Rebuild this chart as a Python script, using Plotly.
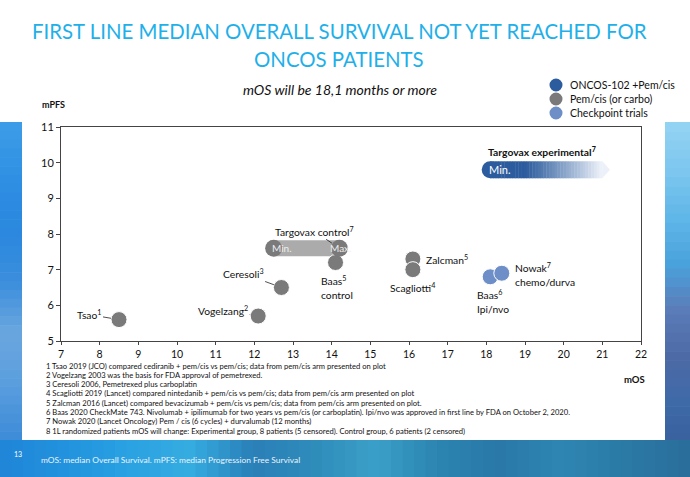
import plotly.graph_objects as go

# ---------------- data ----------------
pem_names = ["Tsao", "Vogelzang", "Ceresoli", "Baas control", "Zalcman", "Scagliotti"]
pem_mos = [8.5, 12.1, 12.7, 14.1, 16.1, 16.1]
pem_mpfs = [5.6, 5.7, 6.5, 7.2, 7.3, 7.0]

cp_names = ["Baas Ipi/nvo", "Nowak chemo/durva"]
cp_mos = [18.1, 18.4]
cp_mpfs = [6.8, 6.9]

ctrl_range_mos = [12.5, 14.2]      # Targovax control Min., Max.
ctrl_mpfs = 7.6
exp_min_mos = 18.1                 # Targovax experimental Min.
exp_arrow_end = 21.2
exp_mpfs = 9.8

x_ticks = list(range(7, 23))
y_ticks = list(range(5, 12))

legend_labels = ["ONCOS-102 +Pem/cis", "Pem/cis (or carbo)", "Checkpoint trials"]

footnotes = [
    "1 Tsao 2019 (JCO) compared cediranib + pem/cis vs pem/cis; data from pem/cis arm presented on plot",
    "2 Vogelzang 2003 was the basis for FDA approval of pemetrexed.",
    "3 Ceresoli 2006, Pemetrexed plus carboplatin",
    "4 Scagliotti 2019 (Lancet) compared nintedanib + pem/cis vs pem/cis; data from pem/cis arm presented on plot",
    "5 Zalcman 2016 (Lancet) compared bevacizumab + pem/cis vs pem/cis; data from pem/cis arm presented on plot.",
    "6 Baas 2020 CheckMate 743. Nivolumab + ipilimumab for two years vs pem/cis (or carboplatin). Ipi/nvo was approved in first line by FDA on October 2, 2020.",
    "7 Nowak 2020 (Lancet Oncology) Pem / cis (6 cycles) + durvalumab (12 months)",
    "8 1L randomized patients mOS will change: Experimental group, 8 patients (5 censored). Control group, 6 patients (2 censored)",
]

# ---------------- style ----------------
FONT = "Lato"
GRAY = "#7a7a7a"
LIGHTGRAY = "#ababab"
DARKBLUE = "#2c5c9d"
CPBLUE = "#6d8ec6"
TITLEBLUE = "#1fb0ea"

W, H = 690, 477
L, R, T, B = 61, 641, 127, 341


def px(x):
    return (x - L) / (R - L)


def py(y):
    return (B - y) / (B - T)


def hex2rgb(h):
    h = h.lstrip("#")
    return tuple(int(h[i:i + 2], 16) for i in (0, 2, 4))


def lerp_stops(stops, f):
    n = len(stops) - 1
    pos = f * n
    i = min(int(pos), n - 1)
    t = pos - i
    a, b = hex2rgb(stops[i]), hex2rgb(stops[i + 1])
    return "rgb(%d,%d,%d)" % tuple(int(round(u + (v - u) * t)) for u, v in zip(a, b))


fig = go.Figure()

# Targovax control bar
fig.add_trace(go.Scatter(x=ctrl_range_mos, y=[ctrl_mpfs, ctrl_mpfs], mode="lines",
                         line=dict(color=LIGHTGRAY, width=16), hoverinfo="skip", showlegend=False))

# pem/cis points
fig.add_trace(go.Scatter(x=pem_mos, y=pem_mpfs, mode="markers", text=pem_names,
                         marker=dict(size=16, color=GRAY, line=dict(color="white", width=1)),
                         showlegend=False))
# control ends
fig.add_trace(go.Scatter(x=ctrl_range_mos, y=[ctrl_mpfs, ctrl_mpfs], mode="markers",
                         marker=dict(size=17, color=GRAY, line=dict(width=0)),
                         showlegend=False))
# checkpoint points
fig.add_trace(go.Scatter(x=cp_mos, y=cp_mpfs, mode="markers", text=cp_names,
                         marker=dict(size=16, color=CPBLUE, line=dict(color="white", width=1)),
                         showlegend=False))

shapes = []

# ---- background image approximation ----
def prect(x0, y0, x1, y1, color):
    shapes.append(dict(type="rect", xref="paper", yref="paper", x0=px(x0), x1=px(x1),
                       y0=py(y1), y1=py(y0), fillcolor=color, line=dict(width=0), layer="below"))

NSEG = 36
left_stops = ["#3c9ce8", "#2f8fe2", "#2a88de", "#3a8edc", "#6aa6de", "#5a9ede", "#3f8cd8"]
for i in range(NSEG):
    y0 = 122 + i * 318 / NSEG
    prect(0, y0, 22, y0 + 318 / NSEG + 0.6, lerp_stops(left_stops, i / (NSEG - 1)))
right_stops = ["#92d2f2", "#7cc6ef", "#5fb6e8", "#4aa2dc", "#5a7cb8", "#4d6aa6", "#3f6aa8", "#37609c"]
for i in range(NSEG):
    y0 = 122 + i * 330 / NSEG
    prect(665, y0, 690, y0 + 330 / NSEG + 0.6, lerp_stops(right_stops, i / (NSEG - 1)))
bottom_stops = ["#1f86d8", "#2293de", "#2aa2e2", "#35ace0", "#2a7fb8", "#2f8cba", "#3aa0c8",
                "#2b84b0", "#2a78a8", "#2e86b2", "#2b7aa6", "#2a6f9c"]
NB = 60
for i in range(NB):
    x0 = i * 690 / NB
    prect(x0, 440, x0 + 690 / NB + 0.6, 477, lerp_stops(bottom_stops, i / (NB - 1)))

# ---- Targovax experimental gradient arrow ----
half_h = 8.5 / ((B - T) / 6)
body_end = exp_arrow_end - 0.2
nseg = 40
start_rgb = (0x2c, 0x5c, 0x9d)
end_rgb = (0xec, 0xf1, 0xf9)
for i in range(nseg):
    f = i / (nseg - 1)
    g = max(0.0, (f - 0.3) / 0.7) ** 1.1
    col = tuple(int(round(s + (e - s) * g)) for s, e in zip(start_rgb, end_rgb))
    xa = exp_min_mos + (body_end - exp_min_mos) * i / nseg
    xb = exp_min_mos + (body_end - exp_min_mos) * (i + 1) / nseg + 0.01
    shapes.append(dict(type="rect", xref="x", yref="y", x0=xa, x1=xb,
                       y0=exp_mpfs - half_h, y1=exp_mpfs + half_h,
                       fillcolor="rgb(%d,%d,%d)" % col, line=dict(width=0), layer="above"))
shapes.append(dict(type="path", xref="x", yref="y",
                   path="M %f,%f L %f,%f L %f,%f Z" % (body_end, exp_mpfs - half_h,
                                                      exp_arrow_end, exp_mpfs,
                                                      body_end, exp_mpfs + half_h),
                   fillcolor="rgb(%d,%d,%d)" % end_rgb, line=dict(width=0), layer="above"))

# legend circles
leg_cols = [DARKBLUE, GRAY, CPBLUE]
leg_y = [85, 99, 113]
for c, yy in zip(leg_cols, leg_y):
    shapes.append(dict(type="circle", xref="paper", yref="paper", xsizemode="pixel", ysizemode="pixel",
                       xanchor=px(556), yanchor=py(yy), x0=-6.5, x1=6.5, y0=-6.5, y1=6.5,
                       fillcolor=c, line=dict(width=0)))

# left cap of experimental arrow
fig.add_trace(go.Scatter(x=[exp_min_mos], y=[exp_mpfs], mode="markers",
                         marker=dict(size=17, color=DARKBLUE, line=dict(width=0)), showlegend=False))

ann = []

def pa(text, x, y, size=10.5, color="#111111", xanchor="center", yanchor="middle", **kw):
    ann.append(dict(text=text, xref="paper", yref="paper", x=px(x), y=py(y), showarrow=False,
                    xanchor=xanchor, yanchor=yanchor,
                    font=dict(family=FONT, size=size, color=color), **kw))

# titles
pa("FIRST LINE MEDIAN OVERALL SURVIVAL NOT YET REACHED FOR", 339, 31, size=20.4, color=TITLEBLUE)
pa("ONCOS PATIENTS", 339, 59, size=20.4, color=TITLEBLUE)
pa("<i>mOS will be 18,1 months or more</i>", 340, 90, size=14, color="#111111")
pa("<b>mPFS</b>", 40, 104, size=9, xanchor="left")
pa("<b>mOS</b>", 647, 379, size=9.5, xanchor="right")

for lab, yy in zip(legend_labels, leg_y):
    pa(lab, 568, yy, size=10.5, xanchor="left")

for i, fn in enumerate(footnotes):
    pa(fn, 44, 365.5 + i * 9.3, size=7.6, xanchor="left")

pa("13", 12, 454, size=7, color="white", xanchor="left")
pa("mOS: median Overall Survival. mPFS: median Progression Free Survival", 39, 460,
   size=8.4, color="#eaf4fb", xanchor="left")


def da(text, x, y, xshift=0, yshift=0, xanchor="center", size=10.3, color="#111111", align="left"):
    ann.append(dict(text=text, x=x, y=y, xref="x", yref="y", showarrow=False, xanchor=xanchor,
                    yanchor="middle", xshift=xshift, yshift=yshift, align=align,
                    font=dict(family=FONT, size=size, color=color)))


def la(text, x, y, ax, ay, size=10.3, standoff=8):
    ann.append(dict(text=text, x=x, y=y, xref="x", yref="y", showarrow=True, ax=ax, ay=ay,
                    arrowhead=0, arrowwidth=0.8, arrowcolor="#222222", standoff=standoff,
                    font=dict(family=FONT, size=size, color="#111111")))

pm = dict(zip(pem_names, zip(pem_mos, pem_mpfs)))
cm = dict(zip(cp_names, zip(cp_mos, cp_mpfs)))

la("Tsao<sup>1</sup>", *pm["Tsao"], -30, -5)
la("Vogelzang<sup>2</sup>", *pm["Vogelzang"], -35, -6)
la("Ceresoli<sup>3</sup>", *pm["Ceresoli"], -38, -14)
la("Targovax control<sup>7</sup>", ctrl_range_mos[1], ctrl_mpfs, -25, -17, standoff=9)
da("Baas<sup>5</sup><br>control", *pm["Baas control"], xshift=-17, yshift=-25, xanchor="left")
da("Zalcman<sup>5</sup>", *pm["Zalcman"], xshift=11, yshift=-1, xanchor="left")
da("Scagliotti<sup>4</sup>", *pm["Scagliotti"], xshift=0, yshift=-18)
da("Nowak<sup>7</sup><br>chemo/durva", *cm["Nowak chemo/durva"], xshift=11, yshift=-1, xanchor="left")
da("Baas<sup>6</sup><br>Ipi/nvo", *cm["Baas Ipi/nvo"], xshift=-15, yshift=-25, xanchor="left")
da("<b>Targovax experimental<sup>7</sup></b>", exp_min_mos, exp_mpfs, xshift=-4, yshift=18,
   xanchor="left", size=10.3)
da("Min.", ctrl_range_mos[0], ctrl_mpfs, xshift=-4, xanchor="left", size=10, color="#eeeeee")
da("Max.", ctrl_range_mos[1], ctrl_mpfs, xshift=-11, xanchor="left", size=10, color="#eeeeee")
da("Min.", exp_min_mos, exp_mpfs, xshift=-3, xanchor="left", size=11, color="#ffffff")

# white panel
shapes.insert(0, dict(type="rect", xref="paper", yref="paper", x0=px(22), x1=px(665), y0=py(440), y1=py(122),
                      fillcolor="white", line=dict(width=0), layer="below"))

fig.update_layout(
    width=W, height=H,
    margin=dict(l=L, r=W - R, t=T, b=H - B, pad=0),
    paper_bgcolor="white", plot_bgcolor="rgba(0,0,0,0)",
    shapes=shapes, annotations=ann, showlegend=False,
    font=dict(family=FONT, size=11, color="#111111"),
    xaxis=dict(range=[7, 22], tickvals=x_ticks, showgrid=False, zeroline=False,
               showline=True, linecolor="#444444", linewidth=1, mirror=True,
               ticks="outside", ticklen=3, tickcolor="#444444",
               tickfont=dict(family=FONT, size=10.5, color="#111111")),
    yaxis=dict(range=[5, 11], tickvals=y_ticks, showgrid=False, zeroline=False,
               showline=True, linecolor="#444444", linewidth=1, mirror=True,
               ticks="outside", ticklen=4, tickcolor="#444444",
               tickfont=dict(family=FONT, size=11, color="#111111")),
)

fig.write_html("out.html")
